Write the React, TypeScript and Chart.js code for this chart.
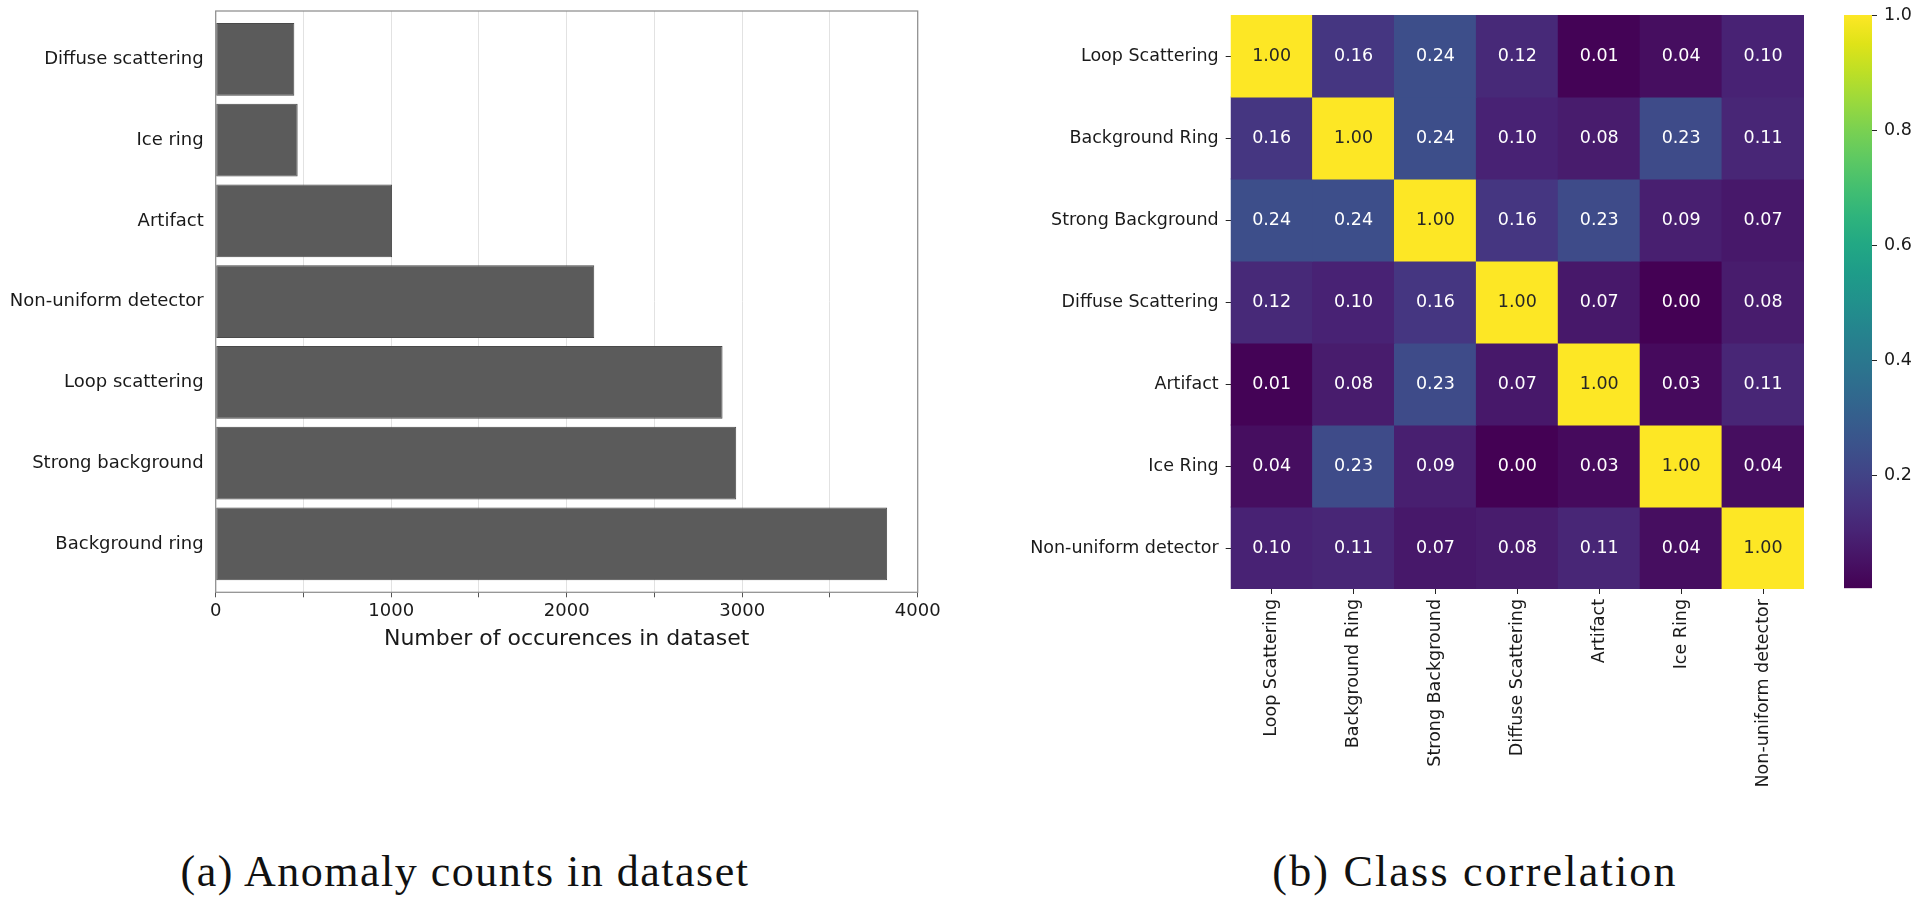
import React, { useEffect, useRef } from 'react';
import { Chart, registerables } from 'chart.js';

Chart.register(...registerables);

// ---------- data: left panel ----------
const barCategories = [
  'Diffuse scattering',
  'Ice ring',
  'Artifact',
  'Non-uniform detector',
  'Loop scattering',
  'Strong background',
  'Background ring',
];
const barCounts = [448, 467, 1005, 2157, 2888, 2966, 3826];
const barAxisMax = 4000;
const barAxisStep = 500;
const barLabelStep = 1000;

// ---------- data: right panel ----------
const classNames = [
  'Loop Scattering',
  'Background Ring',
  'Strong Background',
  'Diffuse Scattering',
  'Artifact',
  'Ice Ring',
  'Non-uniform detector',
];
const corrLoopScattering = [1.0, 0.16, 0.24, 0.12, 0.01, 0.04, 0.1];
const corrBackgroundRing = [0.16, 1.0, 0.24, 0.1, 0.08, 0.23, 0.11];
const corrStrongBackground = [0.24, 0.24, 1.0, 0.16, 0.23, 0.09, 0.07];
const corrDiffuseScattering = [0.12, 0.1, 0.16, 1.0, 0.07, 0.0, 0.08];
const corrArtifact = [0.01, 0.08, 0.23, 0.07, 1.0, 0.03, 0.11];
const corrIceRing = [0.04, 0.23, 0.09, 0.0, 0.03, 1.0, 0.04];
const corrNonUniform = [0.1, 0.11, 0.07, 0.08, 0.11, 0.04, 1.0];
const corrRows = [
  corrLoopScattering,
  corrBackgroundRing,
  corrStrongBackground,
  corrDiffuseScattering,
  corrArtifact,
  corrIceRing,
  corrNonUniform,
];
const colorbarTicks = [0.2, 0.4, 0.6, 0.8, 1.0];
const colorMin = 0.005;
const colorMax = 1.0;

const captionA = '(a) Anomaly counts in dataset';
const captionB = '(b) Class correlation';

// viridis colour map stops (0 .. 1)
const viridisStops = [
  '#440154', '#471365', '#482475', '#463480', '#414487', '#3b528b',
  '#355f8d', '#2f6c8e', '#2a788e', '#25848e', '#21918c', '#1e9c89',
  '#22a884', '#2fb47c', '#44bf70', '#5ec962', '#7ad151', '#9bd93c',
  '#bddf26', '#dfe318', '#fde725',
];

function hexToRgb(h: string): number[] {
  const n = parseInt(h.slice(1), 16);
  return [(n >> 16) & 255, (n >> 8) & 255, n & 255];
}
function viridis(t: number): string {
  const tt = Math.max(0, Math.min(1, t));
  const pos = tt * (viridisStops.length - 1);
  const i = Math.min(Math.floor(pos), viridisStops.length - 2);
  const f = pos - i;
  const a = hexToRgb(viridisStops[i]);
  const b = hexToRgb(viridisStops[i + 1]);
  const c = a.map((v, k) => Math.round(v + (b[k] - v) * f));
  return `rgb(${c[0]},${c[1]},${c[2]})`;
}
const norm = (v: number) => (v - colorMin) / (colorMax - colorMin);

const FONT = 'DejaVu Sans';
const TEXT = '#1a1a1a';

const framePlugin = {
  id: 'frame',
  afterDatasetsDraw(chart: any) {
    const { ctx, chartArea } = chart;
    const { left, top, right, bottom } = chartArea;
    ctx.save();
    ctx.strokeStyle = '#8f8f8f';
    ctx.lineWidth = 1.25;
    ctx.strokeRect(left, top, right - left, bottom - top);
    ctx.restore();
  },
};

const annotatePlugin = {
  id: 'annotate',
  afterDatasetsDraw(chart: any) {
    const { ctx } = chart;
    ctx.save();
    ctx.font = `17.5px "${FONT}"`;
    ctx.textAlign = 'center';
    ctx.textBaseline = 'middle';
    corrRows.forEach((row, r) => {
      const meta = chart.getDatasetMeta(r);
      meta.data.forEach((el: any, c: number) => {
        const v = row[c];
        const p = el.getCenterPoint();
        ctx.fillStyle = norm(v) > 0.5 ? '#262626' : '#ffffff';
        ctx.fillText(v.toFixed(2), p.x, p.y);
      });
    });
    ctx.restore();
  },
};

export default function App() {
  const barRef = useRef<HTMLCanvasElement>(null);
  const heatRef = useRef<HTMLCanvasElement>(null);
  const cbarRef = useRef<HTMLCanvasElement>(null);

  useEffect(() => {
    Chart.defaults.font.family = FONT;
    Chart.defaults.color = TEXT;

    const bar = new Chart(barRef.current!, {
      type: 'bar',
      data: {
        datasets: [
          {
            data: barCounts.map((v, i) => ({ x: v, y: i })),
            backgroundColor: '#5b5b5b',
            borderColor: '#4a4a4a',
            borderWidth: 1,
            borderSkipped: false,
            barPercentage: 0.9,
            categoryPercentage: 1,
          } as any,
        ],
      },
      options: {
        indexAxis: 'y',
        animation: false,
        responsive: false,
        maintainAspectRatio: false,
        layout: { padding: { left: 0, top: 11, right: 42.3, bottom: 0 } },
        plugins: { legend: { display: false }, tooltip: { enabled: false } },
        scales: {
          x: {
            type: 'linear',
            position: 'bottom',
            min: 0,
            max: barAxisMax,
            ticks: {
              stepSize: barAxisStep,
              autoSkip: false,
              maxRotation: 0,
              padding: 3,
              font: { size: 18 },
              color: TEXT,
              callback: (v: any) => (Number(v) % barLabelStep === 0 ? String(v) : ''),
            },
            grid: { color: '#e2e2e2', lineWidth: 1, tickLength: 5, tickColor: '#555555' },
            border: { display: false },
            title: {
              display: true,
              text: 'Number of occurences in dataset',
              font: { size: 22 },
              color: TEXT,
              padding: { top: 0, bottom: 48 },
            },
            afterFit: (s: any) => {
              s.height = 107.7;
              s.paddingLeft = 0;
              s.paddingRight = 0;
            },
          },
          y: {
            type: 'linear',
            offset: false,
            min: -0.6,
            max: barCategories.length - 0.4,
            reverse: true,
            afterBuildTicks: (s: any) => {
              s.ticks = barCategories.map((_, i) => ({ value: i }));
            },
            ticks: {
              autoSkip: false,
              padding: 12,
              font: { size: 18 },
              color: TEXT,
              callback: (v: any) => barCategories[Number(v)] ?? '',
            },
            grid: { display: false, drawTicks: false },
            border: { display: false },
            afterFit: (s: any) => {
              s.width = 215.7;
              s.paddingTop = 0;
              s.paddingBottom = 0;
            },
          },
        },
      } as any,
      plugins: [framePlugin],
    });

    const heat = new Chart(heatRef.current!, {
      type: 'bar',
      data: {
        labels: classNames,
        datasets: corrRows.map((row, r) => ({
          label: classNames[r],
          data: row.map(() => [r, r + 1]),
          backgroundColor: row.map((v) => viridis(norm(v))),
          borderWidth: 0,
          grouped: false,
          barPercentage: 1,
          categoryPercentage: 1,
          inflateAmount: 0.5,
        })) as any,
      },
      options: {
        animation: false,
        responsive: false,
        maintainAspectRatio: false,
        layout: { padding: { left: 0, top: 15, right: 16, bottom: 0 } },
        plugins: { legend: { display: false }, tooltip: { enabled: false } },
        scales: {
          x: {
            type: 'category',
            ticks: {
              autoSkip: false,
              maxRotation: 90,
              minRotation: 90,
              padding: 5,
              font: { size: 17.5 },
              color: TEXT,
            },
            grid: { drawOnChartArea: false, offset: false, tickLength: 5, tickColor: '#262626' },
            border: { display: false },
            afterFit: (s: any) => {
              s.height = 211;
            },
          },
          y: {
            type: 'linear',
            offset: false,
            min: 0,
            max: classNames.length,
            reverse: true,
            afterBuildTicks: (s: any) => {
              s.ticks = classNames.map((_, i) => ({ value: i + 0.5 }));
            },
            ticks: {
              autoSkip: false,
              padding: 7,
              font: { size: 17.5 },
              color: TEXT,
              callback: (v: any) => classNames[Math.floor(Number(v))] ?? '',
            },
            grid: { drawOnChartArea: false, tickLength: 5, tickColor: '#262626' },
            border: { display: false },
            afterFit: (s: any) => {
              s.width = 270.7;
              s.paddingTop = 0;
              s.paddingBottom = 0;
            },
          },
        },
      } as any,
      plugins: [annotatePlugin],
    });

    const cbar = new Chart(cbarRef.current!, {
      type: 'bar',
      data: {
        labels: [''],
        datasets: [
          {
            data: [[colorMin, colorMax]],
            backgroundColor: (ctx: any) => {
              const area = ctx.chart.chartArea;
              if (!area) return viridisStops[0];
              const g = ctx.chart.ctx.createLinearGradient(0, area.bottom, 0, area.top);
              viridisStops.forEach((c, i) => g.addColorStop(i / (viridisStops.length - 1), c));
              return g;
            },
            borderWidth: 0,
            barPercentage: 1,
            categoryPercentage: 1,
          } as any,
        ],
      },
      options: {
        animation: false,
        responsive: false,
        maintainAspectRatio: false,
        layout: { padding: { left: 24, top: 15, right: 0, bottom: 211.7 } },
        plugins: { legend: { display: false }, tooltip: { enabled: false } },
        scales: {
          x: { type: 'category', display: false },
          y: {
            type: 'linear',
            position: 'right',
            min: colorMin,
            max: colorMax,
            afterBuildTicks: (s: any) => {
              s.ticks = colorbarTicks.map((v) => ({ value: v }));
            },
            ticks: {
              padding: 7,
              font: { size: 17.5 },
              color: TEXT,
              callback: (v: any) => Number(v).toFixed(1),
            },
            grid: { drawOnChartArea: false, tickLength: 5, tickColor: '#262626' },
            border: { display: false },
            afterFit: (s: any) => {
              s.width = 48;
              s.paddingTop = 0;
              s.paddingBottom = 0;
            },
          },
        },
      } as any,
    });

    return () => {
      bar.destroy();
      heat.destroy();
      cbar.destroy();
    };
  }, []);

  const captionStyle: React.CSSProperties = {
    position: 'absolute',
    top: 850,
    transform: 'translateX(-50%)',
    fontFamily: '"Liberation Serif", serif',
    fontSize: 44,
    lineHeight: '44px',
    letterSpacing: 1.5,
    whiteSpace: 'nowrap',
    color: '#111',
  };

  return (
    <div style={{ position: 'absolute', left: 0, top: 0, width: 1920, height: 904, background: '#fff', overflow: 'hidden' }}>
      <canvas ref={barRef} width={960} height={700} style={{ position: 'absolute', left: 0, top: 0, width: 960, height: 700 }} />
      <canvas ref={heatRef} width={860} height={800} style={{ position: 'absolute', left: 960, top: 0, width: 860, height: 800 }} />
      <canvas ref={cbarRef} width={100} height={800} style={{ position: 'absolute', left: 1820, top: 0, width: 100, height: 800 }} />
      <div style={{ ...captionStyle, left: 465 }}>{captionA}</div>
      <div style={{ ...captionStyle, left: 1475, letterSpacing: 2.2 }}>{captionB}</div>
    </div>
  );
}
